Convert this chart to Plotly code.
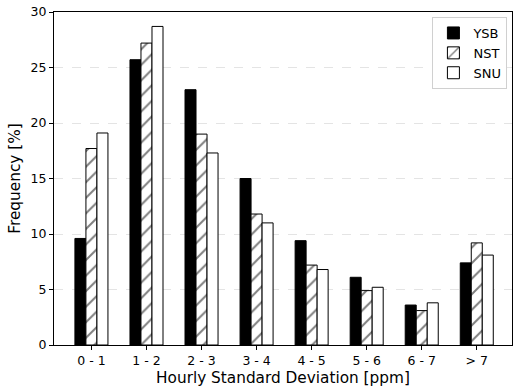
import plotly.graph_objects as go

categories = ["0 - 1", "1 - 2", "2 - 3", "3 - 4", "4 - 5", "5 - 6", "6 - 7", "> 7"]
ysb = [9.6, 25.7, 23.0, 15.0, 9.4, 6.1, 3.6, 7.4]
nst = [17.7, 27.2, 19.0, 11.8, 7.2, 4.9, 3.1, 9.2]
snu = [19.1, 28.7, 17.3, 11.0, 6.8, 5.2, 3.8, 8.1]
y_ticks = [0, 5, 10, 15, 20, 25, 30]

font = "DejaVu Sans"
xidx = list(range(len(categories)))

fig = go.Figure()
fig.add_trace(go.Bar(x=xidx, y=ysb, name="YSB",
                     marker=dict(color="black", line=dict(color="black", width=1))))
fig.add_trace(go.Bar(x=xidx, y=nst, name="NST",
                     marker=dict(color="white", line=dict(color="black", width=1),
                                 pattern=dict(shape="/", fgcolor="black", bgcolor="white",
                                              size=11, solidity=0.18))))
fig.add_trace(go.Bar(x=xidx, y=snu, name="SNU",
                     marker=dict(color="white", line=dict(color="black", width=1))))

fig.update_layout(
    width=518, height=388,
    margin=dict(l=54, r=6, t=12, b=43, autoexpand=False),
    paper_bgcolor="white", plot_bgcolor="white",
    barmode="group", bargap=0.4, bargroupgap=0,
    font=dict(family=font, size=12, color="black"),
    legend=dict(x=0.99, y=0.985, xanchor="right", yanchor="top",
                bgcolor="white", bordercolor="#d0d0d0", borderwidth=1,
                font=dict(size=13), tracegroupgap=2, itemwidth=30),
    showlegend=True,
)
fig.update_xaxes(
    tickmode="array", tickvals=xidx, ticktext=categories,
    range=[-0.68, 7.64], automargin=False,
    showline=True, linecolor="black", linewidth=1, mirror=True,
    ticks="outside", ticklen=4, tickcolor="black",
    tickfont=dict(size=12.5),
    showgrid=False, zeroline=False,
    title=dict(text="Hourly Standard Deviation [ppm]", font=dict(size=15.3), standoff=5),
)
fig.update_yaxes(
    range=[0, 30], tickvals=y_ticks, automargin=False,
    showline=True, linecolor="black", linewidth=1, mirror=True,
    ticks="outside", ticklen=4, tickcolor="black",
    tickfont=dict(size=12.5),
    showgrid=True, gridcolor="#e4e4e4", griddash="dash", gridwidth=1,
    zeroline=False,
    title=dict(text="Frequency [%]", font=dict(size=15.3), standoff=6),
)

fig.write_html("out.html", config={"displayModeBar": False},
               post_script="document.body.style.margin='0';document.body.style.overflow='hidden';")
